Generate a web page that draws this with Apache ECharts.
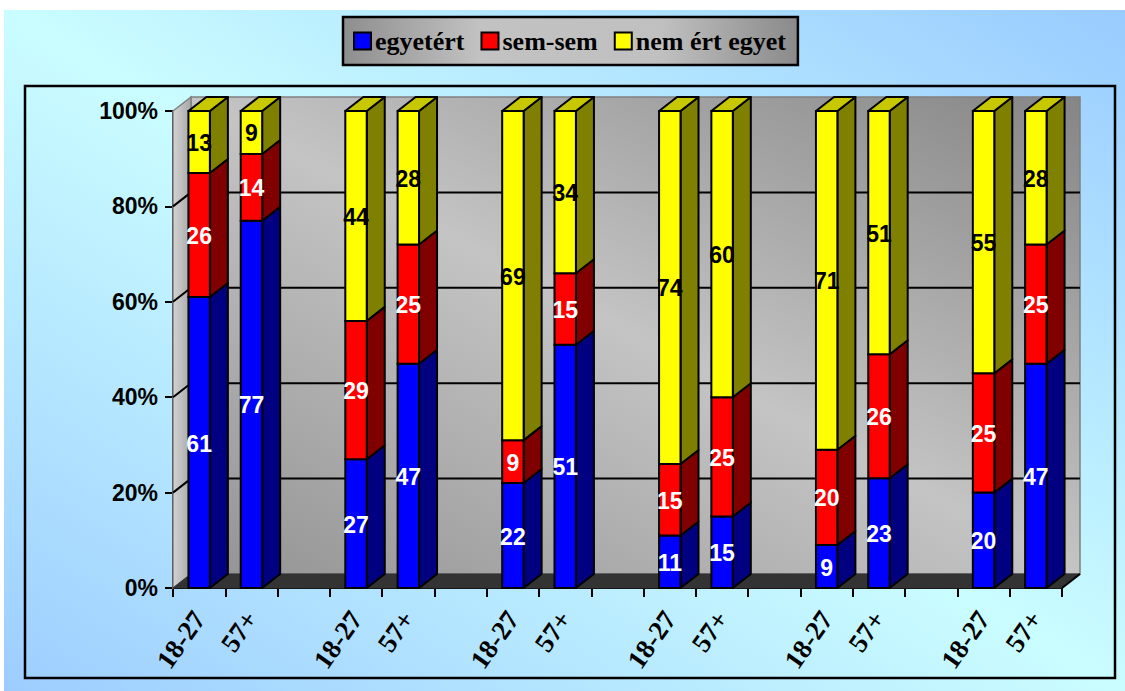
<!DOCTYPE html>
<html><head><meta charset="utf-8">
<script src="https://cdn.jsdelivr.net/npm/echarts@6/dist/echarts.min.js"></script>
<style>html,body{margin:0;padding:0;background:#fff}#c{width:1125px;height:691px}</style>
</head><body><div id="c"></div>
<script>
// ---- data ----
const categories = ['18-27','57+','','18-27','57+','','18-27','57+','','18-27','57+','','18-27','57+','','18-27','57+'];
const egyetert    = [61,77,null,27,47,null,22,51,null,11,15,null, 9,23,null,20,47];
const semSem      = [26,14,null,29,25,null, 9,15,null,15,25,null,20,26,null,25,25];
const nemErtEgyet = [13, 9,null,44,28,null,69,34,null,74,60,null,71,51,null,55,28];
const yTicks = [0,20,40,60,80,100];
const seriesNames = ['egyetért','sem-sem','nem ért egyet'];

// ---- styles ----
const DX = 18, DY = -14;
const W = 1125, H = 691;
const SERIF = 'Liberation Serif';
const SANS = 'Liberation Sans';

function stackItems(values, below) {
  const out = [];
  values.forEach((v, i) => {
    if (v == null) return;
    let s = 0;
    below.forEach(arr => { s += arr[i] || 0; });
    out.push([i, s, s + v, v]);
  });
  return out;
}

function barRender(front, side, top, labelColor, isTop) {
  return function (params, api) {
    const i = api.value(0), s = api.value(1), e = api.value(2), v = api.value(3);
    const p0 = api.coord([i, s]), p1 = api.coord([i, e]);
    const bw = api.size([1, 0])[0] * 0.41;
    const xl = p0[0] - bw / 2, xr = p0[0] + bw / 2;
    const yb = p0[1], yt = p1[1];
    const children = [
      { type: 'polygon', shape: { points: [[xr, yb], [xr + DX, yb + DY], [xr + DX, yt + DY], [xr, yt]] },
        style: { fill: side, stroke: '#000', lineWidth: 2, lineJoin: 'round' } },
      { type: 'rect', shape: { x: xl, y: yt, width: bw, height: yb - yt },
        style: { fill: front, stroke: '#000', lineWidth: 2 } }
    ];
    if (isTop) {
      children.push({ type: 'polygon', shape: { points: [[xl, yt], [xr, yt], [xr + DX, yt + DY], [xl + DX, yt + DY]] },
        style: { fill: top, stroke: '#000', lineWidth: 2, lineJoin: 'round' } });
    }
    children.push({ type: 'text', z2: 10,
      style: { text: String(v), x: p0[0], y: (yb + yt) / 2 + 1, align: 'center', verticalAlign: 'middle',
        fill: labelColor, fontFamily: SANS, fontWeight: 'bold', fontSize: 23 } });
    return { type: 'group', children };
  };
}

function wallRender(params, api) {
  const band = api.size([1, 0])[0];
  const n = categories.length;
  const pL = api.coord([0, 0]), pR = api.coord([n - 1, 0]);
  const xL = pL[0] - band / 2, xR = pR[0] + band / 2;
  const y0 = pL[1], y100 = api.coord([0, 100])[1];
  const bx0 = xL + DX, bx1 = xR + DX, by0 = y100 + DY, by1 = y0 + DY;
  const cx = (bx0 + bx1) / 2, cy = (by0 + by1) / 2;
  const dw = bx1 - bx0, dh = by1 - by0, len = Math.hypot(dw, dh);
  const ux = -dh / len, uy = dw / len;
  const ext = Math.abs((bx1 - cx) * ux + (by0 - cy) * uy);
  const wallGrad = new echarts.graphic.LinearGradient(cx - ext * ux, cy - ext * uy, cx + ext * ux, cy + ext * uy, [
    { offset: 0, color: '#858585' }, { offset: 0.5, color: '#c4c4c4' }, { offset: 1, color: '#939393' }
  ], true);
  const children = [
    { type: 'rect', shape: { x: bx0, y: by0, width: dw, height: dh },
      style: { fill: wallGrad, stroke: '#808080', lineWidth: 1.5 } },
    { type: 'polygon', shape: { points: [[xL, y0], [xL, y100], [xL + DX, y100 + DY], [xL + DX, y0 + DY]] },
      style: { fill: new echarts.graphic.LinearGradient(0, 0, 1, 0, [{ offset: 0, color: '#d2d2d2' }, { offset: 1, color: '#a8a8a8' }]),
        stroke: '#808080', lineWidth: 1.5 } },
    { type: 'polygon', shape: { points: [[xL, y0], [xR, y0], [xR + DX, y0 + DY], [xL + DX, y0 + DY]] },
      style: { fill: '#333333', stroke: '#333333', lineWidth: 1 } },
    { type: 'line', shape: { x1: xR, y1: y0, x2: xR + DX, y2: y0 + DY }, style: { stroke: '#000', lineWidth: 2 } }
  ];
  yTicks.forEach(t => {
    if (t === 0 || t === 100) return;
    const y = api.coord([0, t])[1];
    children.push({ type: 'line', shape: { x1: xL, y1: y, x2: xL + DX, y2: y + DY }, style: { stroke: '#000', lineWidth: 2 } });
    children.push({ type: 'line', shape: { x1: xL + DX, y1: y + DY, x2: xR + DX, y2: y + DY }, style: { stroke: '#000', lineWidth: 2 } });
  });
  return { type: 'group', children };
}

// page background gradient
const bgX = 4, bgY = 10, bgW = W - 4, bgH = H - 10;
const bcx = bgX + bgW / 2, bcy = bgY + bgH / 2, blen = Math.hypot(bgW, bgH);
const bux = bgH / blen, buy = -bgW / blen;
const bext = Math.abs((bgW / 2) * bux + (-bgH / 2) * buy);
const bgGrad = new echarts.graphic.LinearGradient(bcx - bext * bux, bcy - bext * buy, bcx + bext * bux, bcy + bext * buy, [
  { offset: 0, color: '#9dcdff' }, { offset: 0.5, color: '#cafdff' }, { offset: 1, color: '#99cbff' }
], true);

const chart = echarts.init(document.getElementById('c'), null, { renderer: 'svg', width: W, height: H });
chart.setOption({
  animation: false,
  backgroundColor: '#ffffff',
  graphic: [
    { type: 'rect', z: -100, shape: { x: bgX, y: bgY, width: bgW, height: bgH }, style: { fill: bgGrad } },
    { type: 'rect', z: 100, shape: { x: 25, y: 86, width: 1090, height: 592 }, style: { fill: 'none', stroke: '#000', lineWidth: 2.5 } }
  ],
  legend: {
    data: seriesNames,
    left: 343, top: 17,
    padding: [11, 12, 11, 10],
    itemGap: 16, itemWidth: 17, itemHeight: 17,
    icon: 'rect',
    borderColor: '#000', borderWidth: 2.5,
    backgroundColor: new echarts.graphic.LinearGradient(0, 0, 1, 0, [
      { offset: 0, color: '#8e8e8e' }, { offset: 0.3, color: '#c2c2c2' }, { offset: 0.7, color: '#c0c0c0' }, { offset: 1, color: '#8a8a8a' }
    ]),
    itemStyle: { borderColor: '#000', borderWidth: 2 },
    textStyle: { fontFamily: SERIF, fontWeight: 'bold', fontSize: 26, color: '#000', padding: [0, 0, 0, -1] },
    selectedMode: false
  },
  grid: { left: 173, right: 63, top: 111, bottom: 103, containLabel: false },
  xAxis: {
    type: 'category', data: categories, boundaryGap: true,
    axisLine: { show: true, lineStyle: { color: '#000', width: 2 } },
    axisTick: { show: true, interval: 0, length: 9, lineStyle: { color: '#000', width: 2 } },
    axisLabel: { interval: 0, rotate: 55, margin: 26, color: '#000',
      fontFamily: SERIF, fontWeight: 'bold', fontSize: 27 },
    splitLine: { show: false }
  },
  yAxis: {
    type: 'value', min: 0, max: 100, interval: 20,
    axisLine: { show: true, lineStyle: { color: '#000', width: 2 } },
    axisTick: { show: true, length: 8, lineStyle: { color: '#000', width: 2 } },
    axisLabel: { formatter: '{value}%', margin: 15, color: '#000',
      fontFamily: SANS, fontWeight: 'bold', fontSize: 23 },
    splitLine: { show: false }
  },
  series: [
    { type: 'custom', name: 'walls', z: 1, silent: true, clip: false, renderItem: wallRender, data: [[0, 0]], encode: { x: 0, y: 1 } },
    { type: 'custom', name: seriesNames[0], z: 3, clip: false, itemStyle: { color: '#0000ff' },
      renderItem: barRender('#0000ff', '#000080', '#0000c0', '#ffffff', false),
      data: stackItems(egyetert, []), encode: { x: 0, y: [1, 2] } },
    { type: 'custom', name: seriesNames[1], z: 3, clip: false, itemStyle: { color: '#ff0000' },
      renderItem: barRender('#ff0000', '#800000', '#c00000', '#ffffff', false),
      data: stackItems(semSem, [egyetert]), encode: { x: 0, y: [1, 2] } },
    { type: 'custom', name: seriesNames[2], z: 3, clip: false, itemStyle: { color: '#ffff00' },
      renderItem: barRender('#ffff00', '#808000', '#c8c800', '#000000', true),
      data: stackItems(nemErtEgyet, [egyetert, semSem]), encode: { x: 0, y: [1, 2] } }
  ]
});
</script></body></html>
